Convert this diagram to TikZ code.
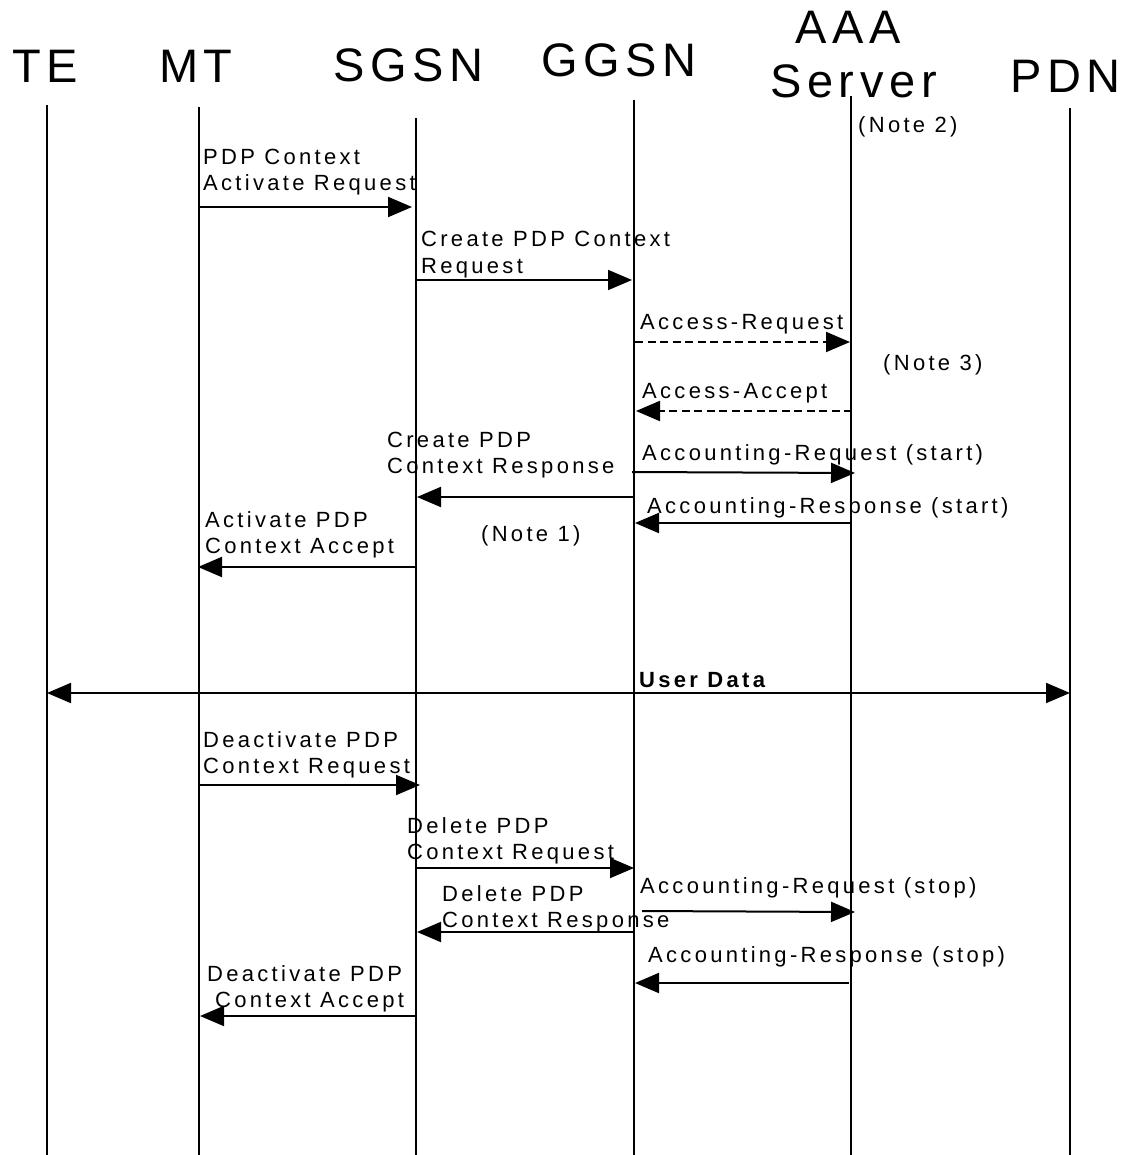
\documentclass[tikz,border=0pt]{standalone}
\usepackage{fontspec}
\usetikzlibrary{arrows.meta}
\newfontfamily\lblfont{Liberation Sans}[LetterSpace=15]
\newfontfamily\hdrfont{Liberation Sans}[LetterSpace=12]
\begin{document}
\begin{tikzpicture}[x=1pt,y=-1pt,
  life/.style={line width=1.8pt},
  msg/.style={line width=2pt,-{Triangle[length=24pt,width=20pt]}},
  dmsg/.style={msg,dash pattern=on 8pt off 4.5pt},
  bmsg/.style={line width=2pt,{Triangle[length=24pt,width=20pt]}-{Triangle[length=24pt,width=20pt]}},
  lbl/.style={font=\lblfont\fontsize{22}{26}\selectfont, inner sep=0pt, anchor=base west, align=left},
  hdr/.style={font=\hdrfont\fontsize{47}{50}\selectfont, inner sep=0pt, anchor=base west}]
\useasboundingbox[fill=white] (0,0) rectangle (1129,1155);

% headers
\node[hdr] (hTE) at (12,83) {TE};
\node[hdr] (hMT) at (159,83) {MT};
\node[hdr] (hSGSN) at (333,82) {SGSN};
\node[hdr] (hGGSN) at (541,77) {GGSN};
\node[hdr] (hAAA) at (795,44) {AAA};
\node[hdr] (hSrv) at (770,98) {Server};
\node[hdr] (hPDN) at (1010,93) {PDN};

% lifelines
\coordinate (tTE) at (47,105);   \coordinate (bTE) at (47,1155);
\coordinate (tMT) at (199,107);  \coordinate (bMT) at (199,1155);
\coordinate (tSG) at (416,118);  \coordinate (bSG) at (416,1155);
\coordinate (tGG) at (634,100);  \coordinate (bGG) at (634,1155);
\coordinate (tAA) at (851,96);   \coordinate (bAA) at (851,1155);
\coordinate (tPD) at (1070,108); \coordinate (bPD) at (1070,1155);
\draw[life] (tTE) -- (bTE);
\draw[life] (tMT) -- (bMT);
\draw[life] (tSG) -- (bSG);
\draw[life] (tGG) -- (bGG);
\draw[life] (tAA) -- (bAA);
\draw[life] (tPD) -- (bPD);

% notes
\node[lbl] (n2) at (858,133) {(Note 2)};
\node[lbl] (n3) at (883,370) {(Note 3)};
\node[lbl] (n1) at (481,541) {(Note 1)};

% message end points
\coordinate (a1) at (199,207); \coordinate (b1) at (412,207);
\coordinate (a2) at (416,280); \coordinate (b2) at (632,280);
\coordinate (a3) at (635,342); \coordinate (b3) at (850,342);
\coordinate (a4) at (852,411); \coordinate (b4) at (636,411);
\coordinate (a5) at (632,472); \coordinate (b5) at (855,473);
\coordinate (a6) at (634,497); \coordinate (b6) at (417,497);
\coordinate (a7) at (851,523); \coordinate (b7) at (635,523);
\coordinate (a8) at (416,567); \coordinate (b8) at (198,567);
\coordinate (a9) at (47,693);  \coordinate (b9) at (1070,693);
\coordinate (a10) at (199,785); \coordinate (b10) at (420,785);
\coordinate (a11) at (416,868); \coordinate (b11) at (634,868);
\coordinate (a12) at (642,911); \coordinate (b12) at (855,912);
\coordinate (a13) at (634,932); \coordinate (b13) at (417,932);
\coordinate (a14) at (849,983); \coordinate (b14) at (635,983);
\coordinate (a15) at (416,1016); \coordinate (b15) at (200,1016);

\draw[msg] (a1) -- (b1);
\draw[msg] (a2) -- (b2);
\draw[dmsg] (a3) -- (b3);
\draw[dmsg] (a4) -- (b4);
\draw[msg] (a5) -- (b5);
\draw[msg] (a6) -- (b6);
\draw[msg] (a7) -- (b7);
\draw[msg] (a8) -- (b8);
\draw[bmsg] (a9) -- (b9);
\draw[msg] (a10) -- (b10);
\draw[msg] (a11) -- (b11);
\draw[msg] (a12) -- (b12);
\draw[msg] (a13) -- (b13);
\draw[msg] (a14) -- (b14);
\draw[msg] (a15) -- (b15);

% labels (base anchor = baseline of last line)
\node[lbl] (l1) at (203,191) {PDP Context\\Activate Request};
\node[lbl] (l2) at (421,273) {Create PDP Context\\Request};
\node[lbl] (l3) at (640,329) {Access-Request};
\node[lbl] (l4) at (642,398) {Access-Accept};
\node[lbl] (l5) at (642,460) {Accounting-Request (start)};
\node[lbl] (l6) at (387,473) {Create PDP\\Context Response};
\node[lbl] (l7) at (647,513) {Accounting-Response (start)};
\node[lbl] (l8) at (205,553) {Activate PDP\\Context Accept};
\node[lbl,font=\lblfont\bfseries\fontsize{22}{26}\selectfont] (l9) at (639,687) {User Data};
\node[lbl] (l10) at (203,773) {Deactivate PDP\\Context Request};
\node[lbl] (l11) at (407,859) {Delete PDP\\Context Request};
\node[lbl] (l12) at (640,893) {Accounting-Request (stop)};
\node[lbl] (l13) at (442,927) {Delete PDP\\Context Response};
\node[lbl] (l14) at (648,962) {Accounting-Response (stop)};
\node[lbl] (l15) at (207,1007) {Deactivate PDP\\\hspace*{8pt}Context Accept};
\end{tikzpicture}
\end{document}
